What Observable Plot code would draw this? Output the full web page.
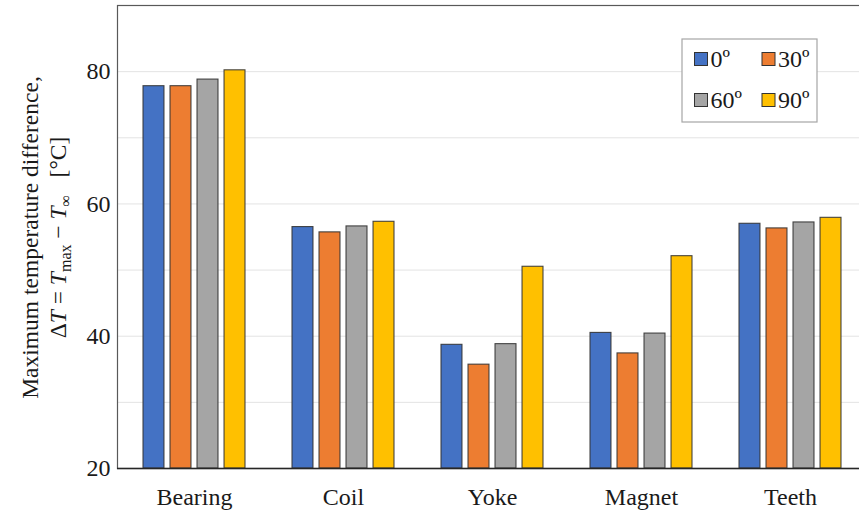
<!DOCTYPE html>
<html><head><meta charset="utf-8">
<script src="https://cdn.jsdelivr.net/npm/d3@7"></script>
<script src="https://cdn.jsdelivr.net/npm/@observablehq/plot@0.6"></script>
<style>
html,body{margin:0;padding:0;background:#fff;overflow:hidden;}
svg text{font-family:'Liberation Serif','Times New Roman',serif;}
</style></head><body><div id="chart"></div>
<script>
const categories = ["Bearing", "Coil", "Yoke", "Magnet", "Teeth"];
const series = ["0º", "30º", "60º", "90º"];
const values0  = [77.8, 56.5, 38.7, 40.5, 57.0];
const values30 = [77.8, 55.7, 35.7, 37.4, 56.3];
const values60 = [78.8, 56.6, 38.8, 40.4, 57.2];
const values90 = [80.2, 57.3, 50.5, 52.1, 57.9];
const colors = ["#4472C4", "#ED7D31", "#A5A5A5", "#FFC000"];
const yTicks = [20, 40, 60, 80];
const gridValues = [30, 40, 50, 60, 70, 80];
const yDomain = [20, 90];

const seriesValues = [values0, values30, values60, values90];
const data = [];
series.forEach((s, si) => categories.forEach((c, ci) => data.push({category: c, series: s, value: seriesValues[si][ci]})));

const W = 859, H = 512;
const mL = 117, mR = -9, mT = 5, mB = 44;
const padIn = 0.313, padOut = 0.16;
const step = (W - mR - mL) / (categories.length - padIn + 2 * padOut);
const bw = step * (1 - padIn);
const gap = 5;
const barW = (bw - gap * (series.length - 1)) / series.length;
const FONT = "'Liberation Serif', 'Times New Roman', serif";

const barMarks = series.map((s, i) => Plot.barY(data.filter(d => d.series === s), {
  x: "category", y1: yDomain[0], y2: "value", fill: colors[i],
  stroke: "#333", strokeWidth: 1.1, strokeOpacity: 0.9,
  insetLeft: i * (barW + gap), insetRight: (series.length - 1 - i) * (barW + gap)
}));

const chart = Plot.plot({
  width: W, height: H,
  marginLeft: mL, marginRight: mR, marginTop: mT, marginBottom: mB,
  style: {fontFamily: FONT, fontSize: "24px", color: "#1a1a1a", background: "#fff"},
  x: {domain: categories, paddingInner: padIn, paddingOuter: padOut, tickSize: 0, tickPadding: 19, label: null},
  y: {domain: yDomain, ticks: yTicks, tickSize: 0, tickPadding: 7, label: null},
  marks: [
    Plot.ruleY(gridValues, {stroke: "#e3e3e3", strokeWidth: 1}),
    ...barMarks,
    Plot.frame({stroke: "#595959", strokeWidth: 1.2}),
    Plot.ruleY([yDomain[0]], {stroke: "#262626", strokeWidth: 1.5})
  ]
});
document.getElementById("chart").appendChild(chart);

const svg = d3.select(chart);
// Y axis title (two lines, rotated)
const cy = (mT + (H - mB)) / 2 + 1;
svg.append("text")
  .attr("transform", `translate(38,${cy}) rotate(-90)`)
  .attr("text-anchor", "middle").attr("font-size", 23.5).attr("fill", "#1a1a1a")
  .text("Maximum temperature difference,");
const t2 = svg.append("text")
  .attr("transform", `translate(66,${cy}) rotate(-90)`)
  .attr("text-anchor", "middle").attr("font-size", 23.5).attr("fill", "#1a1a1a");
t2.append("tspan").text("Δ");
t2.append("tspan").attr("font-style", "italic").text("T");
t2.append("tspan").text(" = ");
t2.append("tspan").attr("font-style", "italic").text("T");
t2.append("tspan").attr("font-size", 16).attr("dy", 5).text("max");
t2.append("tspan").attr("dy", -5).text(" − ");
t2.append("tspan").attr("font-style", "italic").text("T");
t2.append("tspan").attr("font-size", 16).attr("dy", 5).text("∞");
t2.append("tspan").attr("dy", -5).attr("xml:space", "preserve").text("   [°C]");

// Legend
const lg = svg.append("g").attr("font-size", 24).attr("fill", "#1a1a1a").attr("text-anchor", "start");
lg.append("rect").attr("x", 682).attr("y", 39).attr("width", 135).attr("height", 83)
  .attr("fill", "#fff").attr("stroke", "#a6a6a6").attr("stroke-width", 1.2);
const lx = [694.5, 762], ly = [59, 100];
series.forEach((s, i) => {
  const x = lx[i % 2], y = ly[Math.floor(i / 2)];
  lg.append("rect").attr("x", x).attr("y", y - 6.5).attr("width", 13).attr("height", 13)
    .attr("fill", colors[i]).attr("stroke", "#333").attr("stroke-width", 1);
  lg.append("text").attr("x", x + 16).attr("y", y).attr("dy", "0.35em").attr("text-anchor", "start").text(s);
});
</script></body></html>
